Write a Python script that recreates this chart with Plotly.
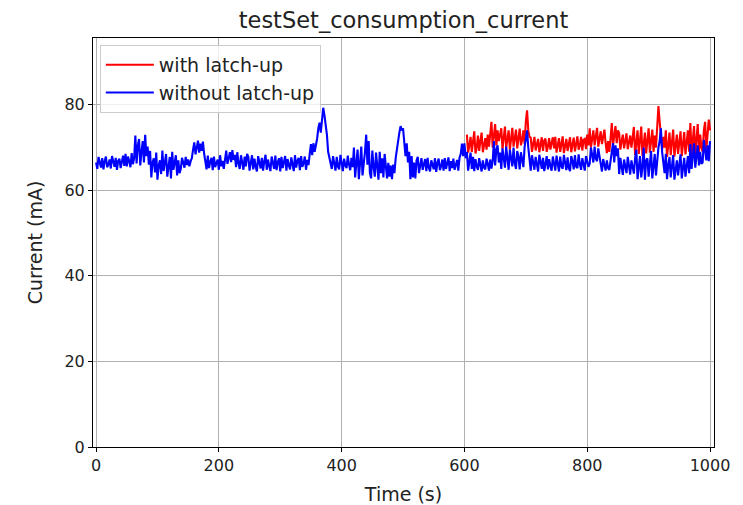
import plotly.graph_objects as go

blue_values = [
    # 0-46
    66.5, 65.0, 67.8, 66.2, 65.3, 67.5, 64.9, 66.8, 67.9, 65.4, 66.0, 67.2, 65.1, 68.0, 66.3, 65.5, 67.6, 64.8, 66.9, 67.4, 65.2, 66.6, 68.1, 65.7,
    # 48-62
    68.5, 65.6, 67.9, 66.8, 65.4, 68.7, 66.1, 67.5,
    # 64-86
    72.8, 66.3, 70.5, 72.0, 65.8, 69.0, 71.5, 66.5, 73.0, 68.0, 70.2, 66.0,
    # 88-136
    69.2, 63.0, 66.5, 67.5, 64.2, 68.8, 62.5, 65.8, 67.0, 63.8, 69.3, 64.5, 66.9, 68.5, 63.2, 65.5, 67.8, 62.8, 69.0, 64.8, 66.2, 68.2, 63.5, 67.0, 64.0,
    # 138-156
    65.0, 67.6, 66.1, 65.3, 67.8, 65.9, 67.2, 65.6, 66.8, 67.5,
    # 158-176
    69.5, 71.2, 68.4, 70.3, 71.6, 68.8, 70.9, 69.2, 71.4, 68.6,
    # 178-210
    66.0, 64.9, 68.1, 65.2, 66.7, 67.6, 64.7, 67.9, 65.4, 66.3, 67.2, 64.8, 68.2, 65.6, 66.9, 65.0, 67.7,
    # 212-226
    69.3, 66.2, 68.0, 68.9, 66.6, 69.4, 67.1, 68.3,
    # 228-246
    65.4, 68.9, 66.3, 65.0, 68.2, 66.8, 64.8, 67.9, 65.6, 68.5,
    # 248-346
    67.8, 64.6, 66.3, 68.2, 64.9, 67.4, 65.5, 64.4, 68.0, 66.2, 65.1, 67.6, 64.6, 66.8, 68.3, 64.8, 67.2, 65.7, 64.5, 67.9,
    66.0, 65.0, 68.1, 64.7, 66.6, 67.5, 64.4, 67.8, 65.2, 66.4, 68.0, 64.6, 67.3, 65.8, 64.9, 67.7, 66.1, 64.5, 68.2, 65.3,
    66.9, 67.6, 64.7, 68.0, 65.5, 66.3, 67.9, 64.8, 67.1, 65.9,
    # 348-358
    68.5, 70.8, 68.2, 71.0, 69.0, 70.5,
    # 360-376
    72.0, 74.5, 75.8, 73.5, 76.5, 79.3, 77.5, 75.5, 73.0,
    # 378-382
    69.0, 67.5, 66.0,
    # 384-418
    65.0, 68.0, 66.2, 64.6, 67.8, 65.5, 64.9, 68.3, 66.4, 64.5, 67.4, 65.8, 65.2, 68.1, 66.0, 64.7, 67.6, 65.4,
    # 420-438
    70.0, 63.0, 66.5, 69.5, 62.6, 67.8, 70.2, 63.5, 65.9, 69.0,
    # 440-446
    73.0, 66.0, 71.5, 64.0,
    # 448-472
    62.8, 69.3, 65.5, 63.2, 68.8, 66.0, 62.5, 69.0, 64.0, 67.5, 63.0, 68.5, 64.5,
    # 474-486
    62.8, 66.4, 63.2, 65.8, 62.6, 66.0, 64.0,
    # 488-498
    67.5, 70.0, 72.0, 73.5, 75.0, 74.0,
    # 500-510
    74.5, 70.5, 68.0, 71.0, 66.5, 69.0,
    # 512-522
    62.6, 68.0, 63.0, 66.5, 62.8, 67.0,
    # 524-592
    67.8, 64.0, 66.2, 67.5, 64.8, 65.9, 67.3, 64.5, 67.6, 65.3, 64.4, 67.0, 66.1, 64.9, 67.5, 64.3, 66.4, 67.4, 64.7, 65.6,
    67.2, 64.6, 67.5, 65.0, 66.3, 67.7, 64.5, 66.8, 65.2, 67.4, 64.8, 66.0, 67.1, 64.6, 67.6,
    # 594-602
    68.5, 70.9, 68.0, 71.0, 67.5,
    # 604-614
    69.0, 64.6, 67.5, 68.8, 65.0, 67.8,
    # 616-646
    64.5, 67.3, 65.6, 64.8, 67.5, 66.0, 64.4, 67.0, 65.3, 64.9, 67.4, 66.2, 64.6, 67.2, 65.1, 66.8,
    # 648-658
    71.5, 65.8, 69.5, 70.5, 66.5, 68.8,
    # 660-698
    65.0, 69.8, 67.2, 65.3, 70.2, 66.8, 64.8, 69.5, 67.5, 65.6, 70.0, 66.3, 65.0, 69.2, 67.8, 64.9, 68.9, 66.5, 65.4, 70.1,
    # 700-706
    72.5, 74.0, 70.0, 67.5,
    # 708-746
    64.6, 68.2, 66.3, 64.8, 67.8, 65.5, 64.4, 68.3, 66.9, 65.0, 67.6, 64.5, 66.2, 68.0, 64.9, 67.3, 65.7, 64.6, 67.9, 65.8,
    # 748-802
    64.6, 68.1, 66.0, 64.4, 67.9, 65.6, 65.0, 68.3, 66.5, 64.7, 67.7, 65.2, 64.5, 68.0, 66.8, 64.9, 68.2, 65.5, 65.2, 68.4,
    66.1, 64.8, 67.5, 65.8, 64.6, 68.0, 66.4, 65.5,
    # 804-822
    66.2, 70.0, 68.3, 66.5, 70.2, 67.4, 66.8, 69.8, 68.0, 66.6,
    # 824-838
    64.4, 67.3, 65.8, 64.6, 67.0, 65.2, 64.8, 66.9,
    # 840-850
    69.5, 71.0, 66.5, 70.5, 68.0, 69.8,
    # 852-878
    63.8, 67.6, 65.5, 63.6, 67.2, 65.0, 64.0, 67.8, 66.0, 63.7, 67.0, 64.8, 63.9, 67.5,
    # 880-916
    69.5, 62.6, 66.0, 68.0, 63.0, 65.5, 70.0, 62.5, 67.0, 67.5, 63.2, 66.2, 69.2, 62.8, 65.8, 68.5, 63.5, 67.2, 70.0,
    # 918-926
    71.5, 74.5, 69.0, 67.0, 64.0,
    # 928-966
    68.5, 62.6, 65.8, 67.8, 63.0, 66.4, 68.2, 62.5, 65.0, 67.0, 63.5, 66.8, 68.4, 62.8, 65.5, 67.6, 63.2, 66.0, 68.0, 64.0,
    # 968-986
    70.8, 65.0, 68.0, 71.0, 65.3, 67.5, 70.5, 65.8, 69.0, 66.2,
    # 988-1000
    66.5, 71.8, 68.5, 67.0, 70.5, 66.8, 71.5,
]
blue_start = 0

red_values = [
    # 604-642
    73.0, 68.8, 70.5, 72.5, 69.0, 71.2, 73.8, 68.6, 70.0, 72.8, 69.2, 71.5, 73.5, 68.9, 70.8, 72.2, 69.5, 73.0, 70.2, 72.6,
    # 644-658
    76.0, 70.0, 73.5, 75.5, 70.5, 74.0, 71.5, 73.0,
    # 660-698
    74.5, 69.6, 72.0, 74.9, 70.0, 72.8, 74.0, 69.5, 71.5, 74.6, 70.2, 73.0, 74.2, 69.8, 72.5, 74.4, 70.5, 71.8, 74.0, 70.8,
    # 700-706
    76.0, 78.7, 74.0, 72.5,
    # 708-746
    72.3, 69.0, 70.8, 72.5, 69.3, 71.2, 72.0, 68.9, 70.5, 72.4, 69.2, 71.6, 72.1, 69.0, 70.3, 72.2, 69.5, 71.0, 72.4, 69.8,
    # 748-802
    72.5, 68.8, 70.6, 72.2, 69.0, 71.3, 72.6, 68.7, 70.2, 72.0, 69.2, 71.5, 72.4, 68.9, 70.8, 72.3, 69.1, 71.0, 72.6, 69.5,
    70.4, 72.5, 69.3, 71.8, 72.0, 69.6, 73.0, 70.5,
    # 804-830
    74.5, 70.0, 72.5, 74.0, 70.5, 73.0, 74.6, 70.2, 72.0, 73.8, 70.8, 72.8, 74.2, 71.0,
    # 832-838
    68.7, 71.5, 69.0, 72.0,
    # 840-850
    75.7, 70.5, 73.5, 75.0, 71.0, 74.0,
    # 852-874
    73.4, 69.5, 71.5, 73.0, 69.8, 72.2, 73.3, 69.6, 71.0, 72.8, 70.0, 72.5,
    # 876-910
    74.8, 68.2, 71.0, 74.0, 68.5, 72.5, 74.9, 68.0, 70.5, 73.5, 68.6, 72.0, 74.5, 68.8, 71.5, 74.2, 69.0, 72.8,
    # 912-926
    70.0, 74.0, 79.7, 76.0, 73.0, 69.5, 72.5, 70.0,
    # 928-966
    74.0, 67.8, 70.5, 73.5, 68.2, 71.8, 74.2, 67.9, 70.0, 73.0, 68.5, 72.0, 73.8, 68.0, 71.0, 73.6, 68.4, 70.8, 74.0, 69.0,
    # 968-986
    75.7, 68.5, 72.0, 75.0, 68.2, 71.5, 75.5, 69.0, 73.0, 70.0,
    # 988-1000
    69.0, 74.0, 76.0, 69.5, 72.5, 76.5, 74.0,
]
red_start = 604
step = 2

blue_t = [blue_start + step * i for i in range(len(blue_values))]
red_t = [red_start + step * i for i in range(len(red_values))]

x_ticks = [0, 200, 400, 600, 800, 1000]
y_ticks = [0, 20, 40, 60, 80]

FONT = "DejaVu Sans"
TXT = "#222222"

fig = go.Figure()
fig.add_trace(go.Scatter(x=red_t, y=red_values, mode="lines", name="with latch-up",
                         line=dict(color="#ff0000", width=2.1)))
fig.add_trace(go.Scatter(x=blue_t, y=blue_values, mode="lines", name="without latch-up",
                         line=dict(color="#0000ff", width=2.1)))

axis_common = dict(
    showgrid=True, gridcolor="#b0b0b0", gridwidth=1,
    showline=True, linecolor="black", linewidth=1, mirror=True,
    ticks="outside", ticklen=4, tickcolor="black", tickwidth=1,
    zeroline=False, automargin=False,
    tickfont=dict(family=FONT, size=16, color=TXT),
)

# the page body adds an 8 px offset, so the figure is sized to fit the window
fig.update_layout(
    width=735, height=497,
    margin=dict(l=85, r=29, t=30, b=58),
    paper_bgcolor="white", plot_bgcolor="white",
    title=dict(text="testSet_consumption_current", x=0.5, xanchor="center", xref="paper",
               y=0.976, yanchor="middle", yref="container",
               font=dict(family=FONT, size=22.5, color=TXT)),
    xaxis=dict(range=[-5, 1006.5], tickvals=x_ticks,
               title=dict(text="Time (s)", standoff=13,
                          font=dict(family=FONT, size=19, color=TXT)),
               **axis_common),
    yaxis=dict(range=[0, 95.6], tickvals=y_ticks,
               title=dict(text="Current (mA)", standoff=16,
                          font=dict(family=FONT, size=19, color=TXT)),
               **axis_common),
    legend=dict(x=0.011, y=0.983, xanchor="left", yanchor="top",
                bgcolor="rgba(255,255,255,0.8)", bordercolor="#cccccc", borderwidth=1,
                itemwidth=48,
                font=dict(family=FONT, size=19, color=TXT)),
    showlegend=True,
)

fig.write_html("out.html")
